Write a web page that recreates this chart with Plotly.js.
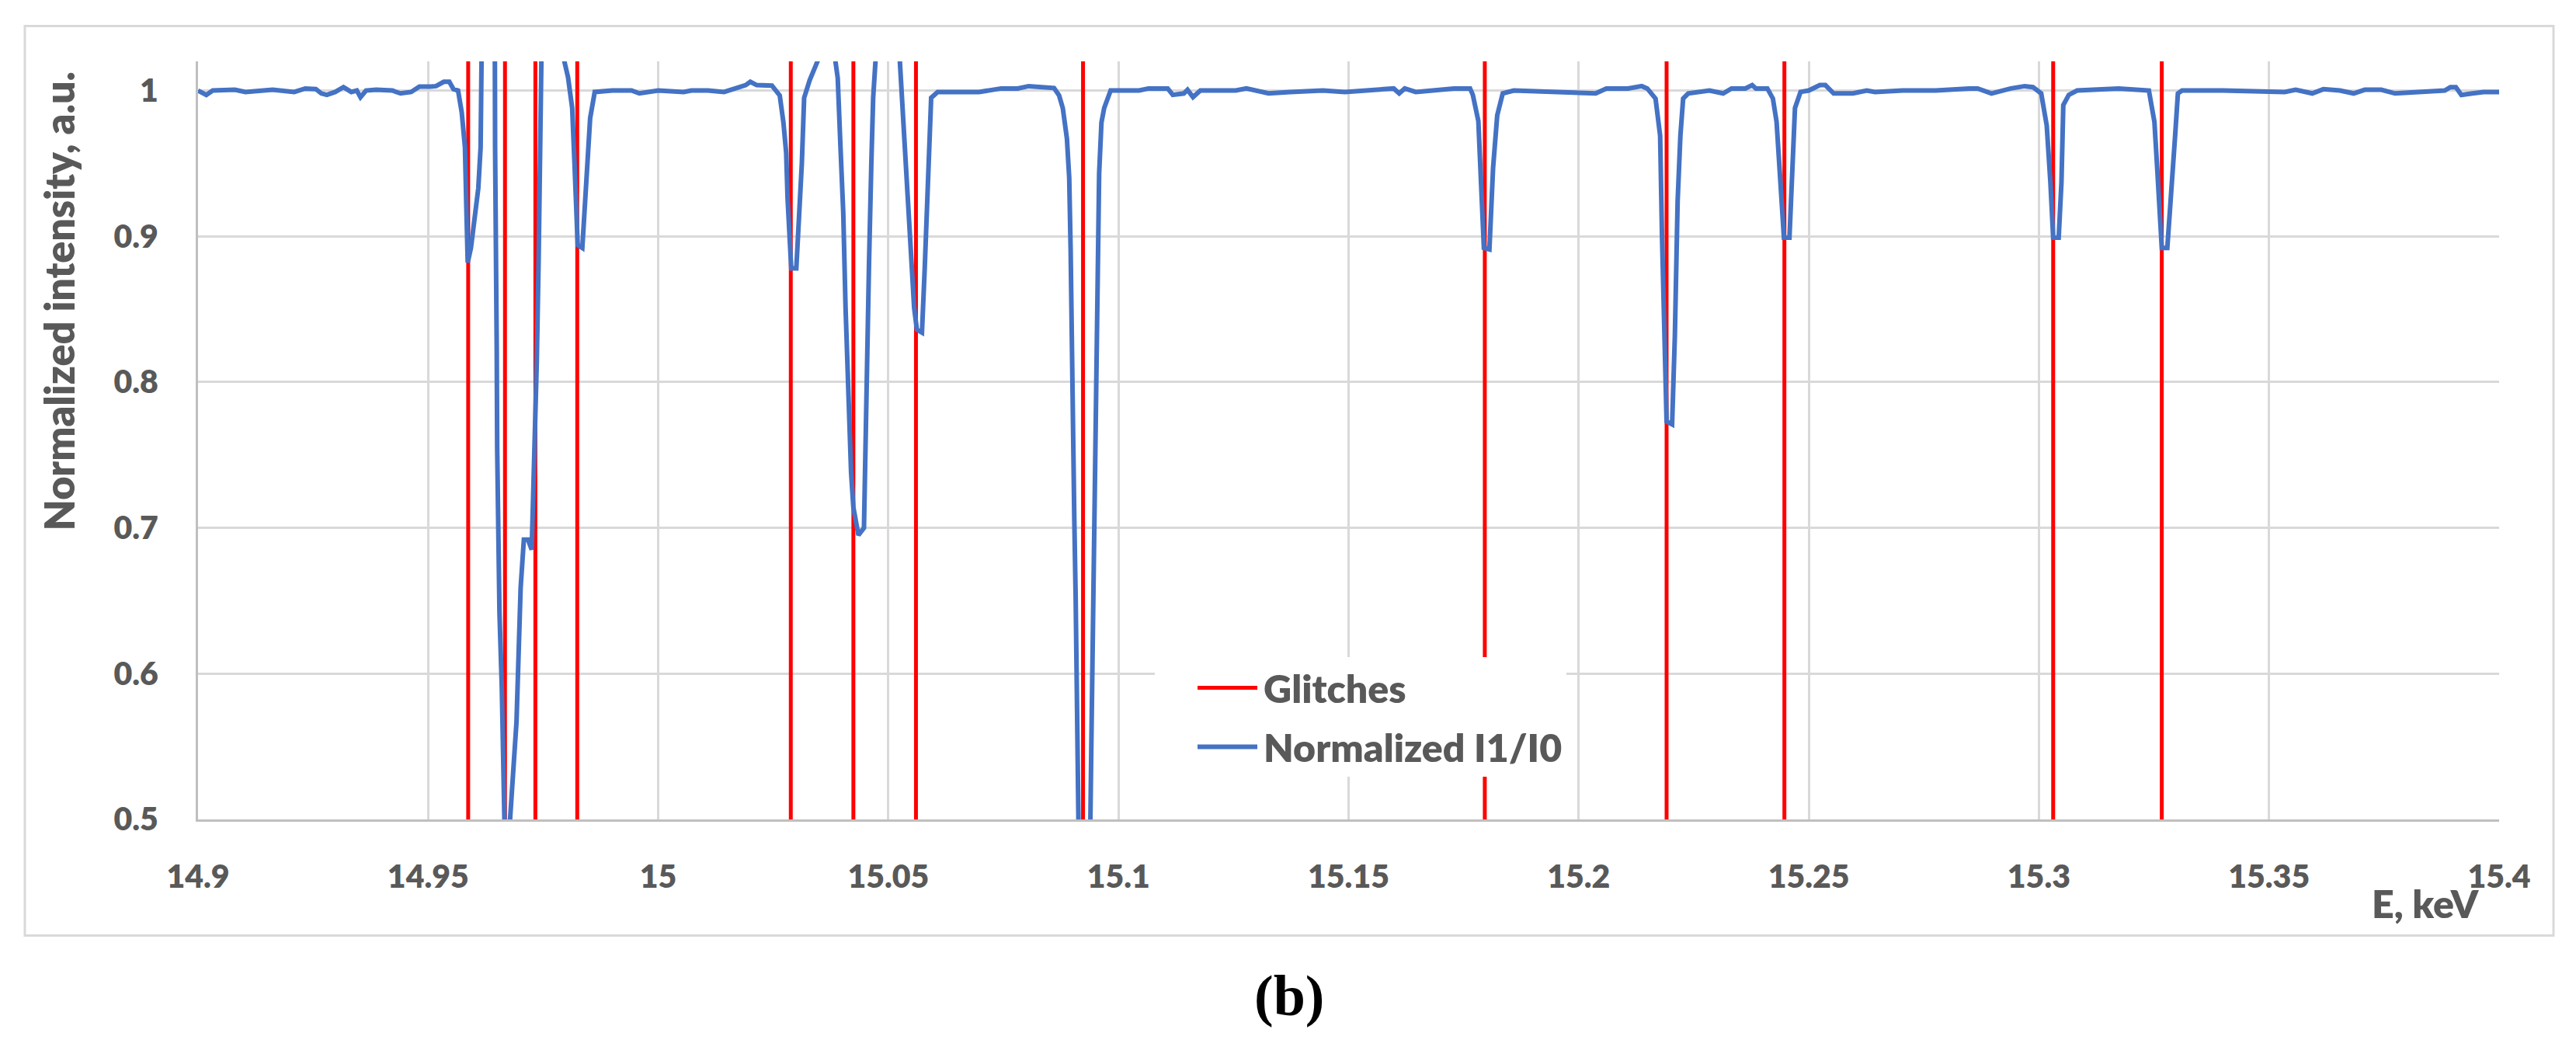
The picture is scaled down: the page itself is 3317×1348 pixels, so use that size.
<!DOCTYPE html>
<html>
<head>
<meta charset="utf-8">
<script src="https://cdn.plot.ly/plotly-3.0.1.min.js"></script>
<style>
  html, body { margin: 0; padding: 0; background: #ffffff; }
  #chart { width: 3317px; height: 1348px; }
</style>
</head>
<body>
<div id="chart"></div>
<script>
// ---------------- data ----------------
// Energy points of the normalized I1/I0 curve, keV
const energy = [
  14.9000, 14.9018, 14.9032, 14.9080, 14.9103, 14.9162, 14.9209, 14.9233, 14.9256, 14.9268,
  14.9280, 14.9298, 14.9316, 14.9333, 14.9345, 14.9353, 14.9365, 14.9387, 14.9422, 14.9440,
  14.9463, 14.9481, 14.9505, 14.9517, 14.9534, 14.9546, 14.9555, 14.9565,
  14.9573, 14.9580, 14.9583, 14.9586, 14.9593, 14.9601, 14.9609, 14.9614, 14.9616, 14.9630,
  14.9645, 14.96455, 14.9648, 14.9649, 14.9650, 14.9652, 14.9655, 14.9660, 14.9663, 14.9666,
  14.9672, 14.9678, 14.9683, 14.9692, 14.9697, 14.9701, 14.9708, 14.9717, 14.9725, 14.9727,
  14.9731, 14.9736, 14.9740, 14.9743, 14.9746, 14.9770, 14.9796, 14.9804, 14.9813, 14.9818,
  14.9821, 14.9825, 14.9835, 14.9840, 14.9847, 14.9852, 14.9862, 14.9900, 14.9942, 14.9959,
  15.0000, 15.0055, 15.0072, 15.0108, 15.0143, 15.0167, 15.0190, 15.0200, 15.0214, 15.0247,
  15.0264, 15.0272, 15.0278, 15.0281, 15.0286, 15.0289, 15.0300, 15.0306, 15.0312, 15.0317,
  15.0329, 15.0346, 15.0365, 15.0385, 15.0390, 15.0396, 15.0402, 15.0407, 15.0413, 15.0419,
  15.0424, 15.0435, 15.0447, 15.0449, 15.0452, 15.0458, 15.0463, 15.0467, 15.0472, 15.0500,
  15.0525, 15.0531, 15.0539, 15.0548, 15.0556, 15.0562, 15.0573, 15.0579, 15.0584, 15.0590,
  15.0593, 15.0607, 15.0650, 15.0697, 15.0745, 15.0781, 15.0805, 15.0831, 15.0860, 15.0871,
  15.0879, 15.0888, 15.0893, 15.0896, 15.0899, 15.0902, 15.0904, 15.0907, 15.0910, 15.0913,
  15.0926, 15.0939, 15.0941, 15.0945, 15.0949, 15.0953, 15.0955, 15.0958, 15.0963, 15.0969,
  15.0983, 15.1045, 15.1065, 15.1107, 15.1118, 15.1142, 15.1150, 15.1162, 15.1178, 15.1255,
  15.1278, 15.1326, 15.1373, 15.1444, 15.1492, 15.1551, 15.1598, 15.1610, 15.1622, 15.1646,
  15.1681, 15.1729, 15.1764, 15.1770, 15.1782, 15.1788, 15.1794, 15.1806, 15.1814, 15.1823,
  15.1835, 15.1859, 15.1966, 15.2037, 15.2060, 15.2107, 15.2137, 15.2149, 15.2167, 15.2177,
  15.2181, 15.2187, 15.2191, 15.2203, 15.2209, 15.2215, 15.2221, 15.2227, 15.2238, 15.2284,
  15.2314, 15.2332, 15.2362, 15.2377, 15.2385, 15.2410, 15.2422, 15.2430, 15.2437, 15.2446,
  15.2458, 15.2464, 15.2470, 15.2482, 15.2500, 15.2524, 15.2536, 15.2554, 15.2596, 15.2626,
  15.2644, 15.2704, 15.2776, 15.2849, 15.2867, 15.2897, 15.2939, 15.2969, 15.2987, 15.3005,
  15.3017, 15.3025, 15.3031, 15.3043, 15.3049, 15.3053, 15.3065, 15.3083, 15.3173, 15.3239,
  15.3251, 15.3257, 15.3263, 15.3267, 15.3279, 15.3288, 15.3296, 15.3302, 15.3311, 15.3400,
  15.3534, 15.3558, 15.3594, 15.3618, 15.3654, 15.3684, 15.3708, 15.3744, 15.3774, 15.3882,
  15.3894, 15.3906, 15.3918, 15.3942, 15.3966, 15.4000
];
// Normalized I1/I0, a.u. (values beyond the axis range are clipped, as in the picture)
const intensity = [
  1.0000, 0.9970, 1.0000, 1.0005, 0.9990, 1.0005, 0.9990, 1.0014, 1.0010, 0.9980,
  0.9970, 0.9990, 1.0023, 0.9990, 1.0000, 0.9954, 1.0000, 1.0005, 1.0000, 0.9980,
  0.9990, 1.0027, 1.0027, 1.0030, 1.0060, 1.0060, 1.0010, 1.0000,
  0.9850, 0.9610, 0.9200, 0.8820, 0.8920, 0.9130, 0.9330, 0.9610, 1.0200, 1.1000,
  1.0200, 0.9610, 0.8920, 0.8240, 0.7550, 0.6900, 0.6420, 0.5910, 0.5390, 0.5000,
  0.4000, 0.5000, 0.5220, 0.5670, 0.6180, 0.6590, 0.6920, 0.6920, 0.6850, 0.7070,
  0.7550, 0.8130, 0.8820, 0.9500, 1.0200, 1.1000, 1.0200, 1.0090, 0.9880, 0.9500,
  0.9160, 0.8940, 0.8920, 0.9160, 0.9500, 0.9810, 0.9990, 1.0000, 1.0000, 0.9980,
  1.0000, 0.9990, 1.0000, 1.0000, 0.9990, 1.0014, 1.0037, 1.0060, 1.0037, 1.0034,
  0.9966, 0.9780, 0.9570, 0.9260, 0.8850, 0.8780, 0.8780, 0.9090, 0.9500, 0.9950,
  1.0070, 1.0200, 1.0600, 1.0200, 1.0086, 0.9610, 0.9160, 0.8510, 0.7890, 0.7380,
  0.7140, 0.6950, 0.7000, 0.7380, 0.7890, 0.8820, 0.9500, 0.9950, 1.0200, 1.1000,
  1.0200, 0.9850, 0.9430, 0.8920, 0.8510, 0.8360, 0.8340, 0.8780, 0.9260, 0.9610,
  0.9950, 0.9990, 0.9990, 0.9990, 1.0014, 1.0014, 1.0030, 1.0024, 1.0017, 0.9966,
  0.9880, 0.9670, 0.9400, 0.8920, 0.8030, 0.7480, 0.7070, 0.6520, 0.5670, 0.5000,
  0.4000, 0.5000, 0.5500, 0.6520, 0.7550, 0.8240, 0.8920, 0.9430, 0.9780, 0.9880,
  1.0000, 1.0000, 1.0014, 1.0014, 0.9970, 0.9980, 1.0005, 0.9955, 1.0000, 1.0000,
  1.0014, 0.9980, 0.9990, 1.0000, 0.9990, 1.0000, 1.0014, 0.9980, 1.0014, 0.9990,
  1.0000, 1.0014, 1.0014, 0.9970, 0.9790, 0.9280, 0.8920, 0.8910, 0.9470, 0.9830,
  0.9980, 1.0000, 0.9990, 0.9980, 1.0014, 1.0014, 1.0030, 1.0014, 0.9945, 0.9690,
  0.9010, 0.8320, 0.7730, 0.7710, 0.8320, 0.9240, 0.9690, 0.9945, 0.9980, 1.0000,
  0.9980, 1.0014, 1.0014, 1.0037, 1.0014, 1.0014, 0.9945, 0.9785, 0.9420, 0.8990,
  0.8990, 0.9420, 0.9880, 0.9990, 1.0000, 1.0037, 1.0037, 0.9980, 0.9980, 1.0000,
  0.9990, 1.0000, 1.0000, 1.0014, 1.0014, 0.9980, 1.0014, 1.0030, 1.0023, 0.9980,
  0.9760, 0.9370, 0.8990, 0.8990, 0.9370, 0.9900, 0.9970, 1.0000, 1.0014, 1.0000,
  0.9785, 0.9470, 0.9150, 0.8920, 0.8920, 0.9280, 0.9690, 0.9980, 1.0000, 1.0000,
  0.9990, 1.0005, 0.9980, 1.0009, 1.0000, 0.9980, 1.0005, 1.0005, 0.9980, 1.0000,
  1.0023, 1.0023, 0.9970, 0.9980, 0.9990, 0.9990
];
// Glitch energies, keV (red vertical markers)
const glitchEnergy = [14.9587, 14.9667, 14.9733, 14.9824, 15.0288, 15.0424, 15.0560,
                      15.0923, 15.1796, 15.2191, 15.2447, 15.3031, 15.3267];
// Axis ranges and tick labels
const xRange = [14.9, 15.4];
const yRange = [0.5, 1.02];
const xTickVals = [14.9, 14.95, 15.0, 15.05, 15.1, 15.15, 15.2, 15.25, 15.3, 15.35, 15.4];
const xTickText = ["14.9", "14.95", "15", "15.05", "15.1", "15.15", "15.2", "15.25", "15.3", "15.35", "15.4"];
const yTickVals = [0.5, 0.6, 0.7, 0.8, 0.9, 1.0];
const yTickText = ["0.5", "0.6", "0.7", "0.8", "0.9", "1"];
const seriesNames = ["Glitches", "Normalized I1/I0"];
const xTitle = "E, keV";
const yTitle = "Normalized intensity, a.u.";
const caption = "(b)";

// ---------------- build traces ----------------
const gx = [], gy = [];
glitchEnergy.forEach(e => { gx.push(e, e, null); gy.push(yRange[0], yRange[1], null); });

const glitchTrace = {
  type: 'scatter', mode: 'lines', name: seriesNames[0], legendgroup: 'g1',
  x: gx, y: gy, line: { color: '#FF0000', width: 5 }, hoverinfo: 'skip'
};
const curveTrace = {
  type: 'scatter', mode: 'lines', name: seriesNames[1], legendgroup: 'g2',
  x: energy, y: intensity, line: { color: '#4472C4', width: 6, shape: 'linear' }
};

// ---------------- layout ----------------
const W = 3317, H = 1348;
const L = 255, R = 99, T = 78.5, B = 293.4;
const PW = W - L - R, PH = H - T - B;
const px = v => (v - L) / PW;          // pixel x -> paper x
const py = v => (H - B - v) / PH;      // pixel y -> paper y

const grey = '#595959';
const fontMain = 'Lato, "Open Sans", sans-serif';

const layout = {
  width: W, height: H,
  margin: { l: L, r: R, t: T, b: B, pad: 0 },
  paper_bgcolor: '#ffffff', plot_bgcolor: '#ffffff',
  showlegend: true,
  xaxis: {
    range: xRange, tickmode: 'array', tickvals: xTickVals, ticktext: xTickText,
    showgrid: true, gridcolor: '#d9d9d9', gridwidth: 3,
    showline: true, linecolor: '#bfbfbf', linewidth: 3,
    zeroline: false, ticks: '', ticklabelstandoff: 36,
    tickfont: { family: fontMain, size: 41, color: grey, weight: 800 }
  },
  yaxis: {
    range: yRange, tickmode: 'array', tickvals: yTickVals, ticktext: yTickText,
    showgrid: true, gridcolor: '#d9d9d9', gridwidth: 3,
    showline: true, linecolor: '#bfbfbf', linewidth: 3,
    zeroline: false, ticks: '', ticklabelstandoff: 40,
    tickfont: { family: fontMain, size: 41, color: grey, weight: 800 }
  },
  legend: {
    x: px(1487), y: py(846), xanchor: 'left', yanchor: 'top',
    bgcolor: '#ffffff', borderwidth: 0, traceorder: 'grouped', tracegroupgap: 8,
    indentation: 100,
    font: { family: fontMain, size: 50, color: grey, weight: 800 }
  },
  annotations: [
    { text: yTitle, textangle: -90, xref: 'paper', yref: 'paper',
      x: px(76), y: py(388), xanchor: 'center', yanchor: 'middle', showarrow: false,
      font: { family: fontMain, size: 52, color: grey, weight: 800 } },
    { text: xTitle, xref: 'paper', yref: 'paper',
      x: px(3195), y: py(1163), xanchor: 'right', yanchor: 'middle', showarrow: false,
      font: { family: fontMain, size: 50, color: grey, weight: 800 } },
    { text: caption, xref: 'paper', yref: 'paper',
      x: px(1660), y: py(1282), xanchor: 'center', yanchor: 'middle', showarrow: false,
      font: { family: '"Liberation Serif", "Times New Roman", serif', size: 74, color: '#000000', weight: 'bold' } }
  ],
  shapes: [
    { type: 'rect', xref: 'paper', yref: 'paper', layer: 'below',
      x0: px(32), x1: px(3288), y0: py(1204), y1: py(33),
      line: { color: '#d9d9d9', width: 3 }, fillcolor: 'rgba(0,0,0,0)' }
  ]
};

Plotly.newPlot('chart', [glitchTrace, curveTrace], layout, { staticPlot: true, displayModeBar: false })
  .then(gd => {
    // lengthen the legend line samples to match the reference legend keys
    gd.querySelectorAll('.legend .legendlines path').forEach(p => {
      p.setAttribute('d', 'M-45,0h77');
    });
  });
</script>
</body>
</html>
